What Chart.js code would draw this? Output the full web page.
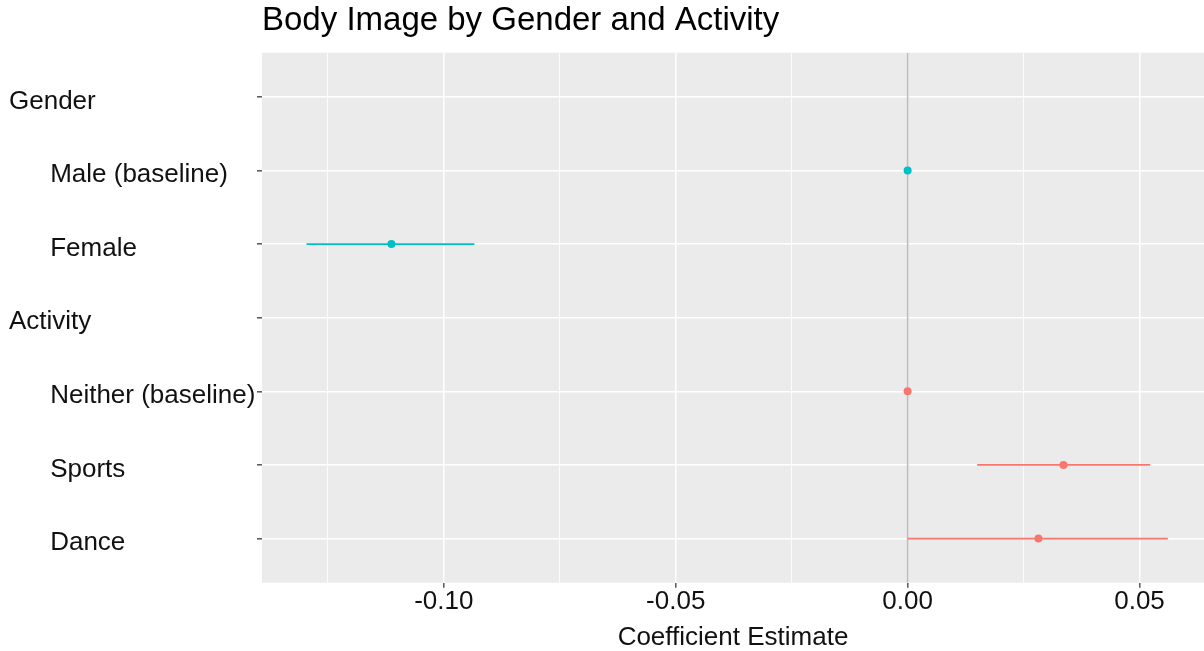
<!DOCTYPE html>
<html>
<head>
<meta charset="utf-8">
<script src="https://cdn.jsdelivr.net/npm/chart.js@4.4.1/dist/chart.umd.min.js"></script>
<style>
  html, body { margin: 0; padding: 0; background: #ffffff; overflow: hidden; }
  #wrap { width: 1204px; height: 651px; position: relative; }
  canvas { display: block; }
</style>
</head>
<body>
<div id="wrap"><canvas id="c" width="1204" height="651"></canvas></div>
<script>
// ---- data ----
const categories = ['Gender', 'Male (baseline)', 'Female', 'Activity', 'Neither (baseline)', 'Sports', 'Dance'];
const indentLevel = [0, 1, 1, 0, 1, 1, 1];
const groups = ['Gender', 'Gender', 'Gender', 'Activity', 'Activity', 'Activity', 'Activity'];
const estimates = [null, 0.0000, -0.1113, null, 0.0000, 0.0336, 0.0282];
const lowerCI   = [null, null,   -0.1296, null, null,   0.0150, 0.0000];
const upperCI   = [null, null,   -0.0934, null, null,   0.0523, 0.0561];
const xMajorTicks = [-0.10, -0.05, 0.00, 0.05];
const xMinorTicks = [-0.125, -0.075, -0.025, 0.025];
const xTickLabels = ['-0.10', '-0.05', '0.00', '0.05'];
const xLimits = [-0.1392, 0.0639];
const refLineX = 0;

const groupColors = { Gender: '#00BFC4', Activity: '#F8766D' };
const FONT = "'Liberation Sans', Arial, sans-serif";

// ---- datasets built from data ----
const pointData = [];
const pointColors = [];
estimates.forEach((v, i) => {
  if (v !== null) {
    pointData.push({ x: v, y: i + 1 });
    pointColors.push(groupColors[groups[i]]);
  }
});

const datasets = [];
datasets.push({
  type: 'scatter',
  label: 'estimates',
  data: pointData,
  pointRadius: 4,
  pointHoverRadius: 4,
  pointBorderWidth: 0,
  pointBackgroundColor: pointColors,
  pointBorderColor: pointColors,
  order: 0
});
lowerCI.forEach((lo, i) => {
  if (lo !== null && upperCI[i] !== null) {
    datasets.push({
      type: 'line',
      label: 'ci-' + categories[i],
      data: [{ x: lo, y: i + 1 }, { x: upperCI[i], y: i + 1 }],
      borderColor: groupColors[groups[i]],
      borderWidth: 1.7,
      pointRadius: 0,
      showLine: true,
      fill: false,
      order: 1
    });
  }
});
const yMin = 0.4, yMax = categories.length + 0.6;
datasets.push({
  type: 'line',
  label: 'zero',
  data: [{ x: refLineX, y: yMin }, { x: refLineX, y: yMax }],
  borderColor: '#BDBDBD',
  borderWidth: 1.6,
  pointRadius: 0,
  showLine: true,
  fill: false,
  order: 2
});

const isMajor = (v) => xMajorTicks.some(t => Math.abs(t - v) < 1e-9);

const panelBg = {
  id: 'panelBg',
  beforeDraw(chart) {
    const { ctx, chartArea: a } = chart;
    ctx.save();
    ctx.fillStyle = '#EBEBEB';
    ctx.fillRect(a.left, a.top, a.right - a.left, a.bottom - a.top);
    ctx.restore();
  }
};

new Chart(document.getElementById('c'), {
  type: 'scatter',
  data: { datasets },
  plugins: [panelBg],
  options: {
    responsive: false,
    animation: false,
    layout: { autoPadding: false, padding: { left: 9, right: 0, top: 0, bottom: 0 } },
    plugins: {
      legend: { display: false },
      tooltip: { enabled: false },
      title: {
        display: true,
        text: 'Body Image by Gender and Activity',
        align: 'start',
        fullSize: false,
        color: '#000000',
        font: { family: FONT, size: 33, weight: 'normal', lineHeight: 1.2 },
        padding: { top: 1.5, bottom: 11.6 }
      }
    },
    scales: {
      x: {
        type: 'linear',
        min: xLimits[0],
        max: xLimits[1],
        afterBuildTicks: (scale) => {
          scale.ticks = xMinorTicks.concat(xMajorTicks).sort((a, b) => a - b).map(v => ({ value: v }));
        },
        afterFit: (scale) => {
          scale.height = 68.3;
          scale.paddingLeft = 0;
          scale.paddingRight = 0;
        },
        border: { display: false },
        grid: {
          color: '#FFFFFF',
          lineWidth: (ctx) => (ctx.tick && isMajor(ctx.tick.value)) ? 1.6 : 0.8,
          drawTicks: true,
          tickLength: 5,
          tickWidth: 1.5,
          tickColor: (ctx) => (ctx.tick && isMajor(ctx.tick.value)) ? '#555555' : 'rgba(0,0,0,0)'
        },
        ticks: {
          autoSkip: false,
          maxRotation: 0,
          padding: -1.5,
          color: '#111111',
          font: { family: FONT, size: 26, lineHeight: 1.2 },
          callback: (v) => {
            const k = xMajorTicks.findIndex(t => Math.abs(t - v) < 1e-9);
            return k >= 0 ? xTickLabels[k] : '';
          }
        },
        title: {
          display: true,
          text: 'Coefficient Estimate',
          color: '#111111',
          font: { family: FONT, size: 26, lineHeight: 1.05 },
          padding: { top: 0, bottom: 0 }
        }
      },
      y: {
        type: 'linear',
        reverse: true,
        min: yMin,
        max: yMax,
        afterBuildTicks: (scale) => {
          scale.ticks = categories.map((c, i) => ({ value: i + 1 }));
        },
        afterFit: (scale) => {
          scale.width = 253;
          scale.paddingTop = 0;
          scale.paddingBottom = 0;
        },
        border: { display: false },
        grid: {
          color: '#FFFFFF',
          lineWidth: 1.6,
          drawTicks: true,
          tickLength: 5,
          tickWidth: 1.5,
          tickColor: '#555555'
        },
        ticks: {
          autoSkip: false,
          crossAlign: 'far',
          labelOffset: 4.5,
          color: '#111111',
          font: { family: FONT, size: 26, lineHeight: 1.2 },
          callback: (v) => {
            const i = Math.round(v) - 1;
            if (i < 0 || i >= categories.length) return '';
            return (indentLevel[i] ? '\u2003\u2002\u200A' : '') + categories[i];
          }
        }
      }
    }
  }
});
</script>
</body>
</html>
